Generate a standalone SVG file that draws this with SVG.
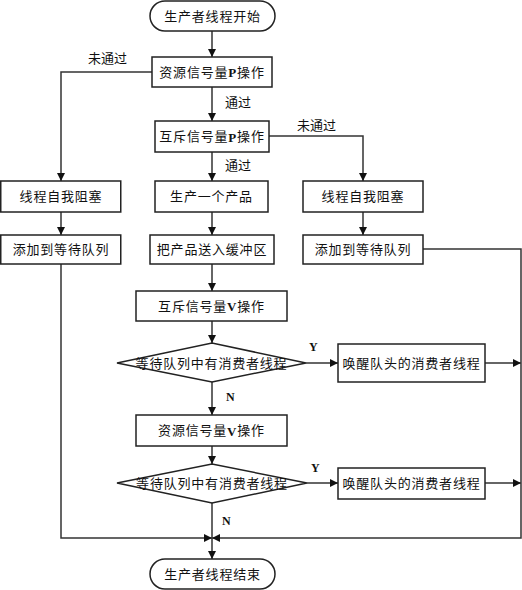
<svg xmlns="http://www.w3.org/2000/svg" width="522" height="590" viewBox="0 0 522 590">
<defs>
<marker id="ah" viewBox="0 0 10 10" refX="10" refY="5" markerWidth="8" markerHeight="8" markerUnits="userSpaceOnUse" orient="auto">
<path d="M0,0 L10,5 L0,10 z" fill="#111"/>
</marker>
<style>
.box{fill:#fff;stroke:#222;stroke-width:1.5}
.t{font-family:"Liberation Serif","Noto Sans CJK SC",serif;font-size:13px;fill:#111;text-anchor:middle;dominant-baseline:central;letter-spacing:0.8px}
.b{font-family:"Liberation Serif",serif;font-weight:bold}
.lbl{font-family:"Liberation Serif","Noto Sans CJK SC",serif;font-size:13px;fill:#111;dominant-baseline:central}
.yn{font-family:"Liberation Serif",serif;font-weight:bold;font-size:12px;fill:#111;dominant-baseline:central}
.c{fill:none;stroke:#333;stroke-width:1.5}
.ca{fill:none;stroke:#333;stroke-width:1.5;marker-end:url(#ah)}
</style>
</defs>
<rect width="522" height="590" fill="#fff"/>
<g id="connectors">
<path class="ca" d="M212,31 V57"/>
<path class="ca" d="M152,72 H61 V181"/>
<path class="ca" d="M212,87 V121"/>
<path class="ca" d="M269,136 H363 V181"/>
<path class="ca" d="M212,152 V181"/>
<path class="ca" d="M61,212 V235"/>
<path class="ca" d="M212,212 V235"/>
<path class="ca" d="M363,212 V235"/>
<path class="ca" d="M212,264 V291"/>
<path class="ca" d="M212,321 V343"/>
<path class="ca" d="M306,363 H338"/>
<path class="ca" d="M485,363 H521"/>
<path class="ca" d="M212,382 V415"/>
<path class="ca" d="M212,446 V464"/>
<path class="ca" d="M307,483 H338"/>
<path class="ca" d="M485,483 H521"/>
<path class="ca" d="M61,264 V538 H212"/>
<path class="ca" d="M423,249 H521 V538 H212"/>
<path class="ca" d="M212,503 V559"/>
<text class="lbl" x="88" y="58">未通过</text>
<text class="lbl" x="225" y="102">通过</text>
<text class="lbl" x="297" y="125">未通过</text>
<text class="lbl" x="225" y="165">通过</text>
<text class="yn" x="309" y="347">Y</text>
<text class="yn" x="226" y="397">N</text>
<text class="yn" x="311" y="468">Y</text>
<text class="yn" x="222" y="521">N</text>
</g>
<g id="start"><rect class="box" x="150" y="1" width="125" height="30" rx="15"/><text class="t" x="212.5" y="16">生产者线程开始</text></g>
<g id="resP"><rect class="box" x="152" y="57" width="120" height="30"/><text class="t" x="212" y="72">资源信号量<tspan class="b">P</tspan>操作</text></g>
<g id="mutexP"><rect class="box" x="155" y="121" width="114" height="31"/><text class="t" x="212" y="136.5">互斥信号量<tspan class="b">P</tspan>操作</text></g>
<g id="block1"><rect class="box" x="0.75" y="181" width="120" height="31"/><text class="t" x="61" y="196.5">线程自我阻塞</text></g>
<g id="produce"><rect class="box" x="155" y="181" width="113" height="31"/><text class="t" x="211.5" y="196.5">生产一个产品</text></g>
<g id="block2"><rect class="box" x="303" y="181" width="120" height="31"/><text class="t" x="363" y="196.5">线程自我阻塞</text></g>
<g id="queue1"><rect class="box" x="0.75" y="235" width="120" height="29"/><text class="t" x="61" y="249.5">添加到等待队列</text></g>
<g id="buffer"><rect class="box" x="150" y="235" width="124" height="29"/><text class="t" x="212" y="249.5">把产品送入缓冲区</text></g>
<g id="queue2"><rect class="box" x="303" y="235" width="120" height="29"/><text class="t" x="363" y="249.5">添加到等待队列</text></g>
<g id="mutexV"><rect class="box" x="136" y="291" width="151" height="30"/><text class="t" x="211.5" y="306">互斥信号量<tspan class="b">V</tspan>操作</text></g>
<g id="check1"><path class="box" d="M117,363 L212,343 L306,363 L212,382 Z"/><text class="t" x="211.5" y="363">等待队列中有消费者线程</text></g>
<g id="wake1"><rect class="box" x="338" y="344" width="147" height="38"/><text class="t" x="411.5" y="363">唤醒队头的消费者线程</text></g>
<g id="resV"><rect class="box" x="136" y="415" width="151" height="31"/><text class="t" x="211.5" y="430.5">资源信号量<tspan class="b">V</tspan>操作</text></g>
<g id="check2"><path class="box" d="M117,483 L212,464 L307,483 L212,503 Z"/><text class="t" x="212" y="483">等待队列中有消费者线程</text></g>
<g id="wake2"><rect class="box" x="338" y="468" width="147" height="31"/><text class="t" x="411.5" y="483.5">唤醒队头的消费者线程</text></g>
<g id="end"><rect class="box" x="150" y="559" width="125" height="30" rx="15"/><text class="t" x="212.5" y="574">生产者线程结束</text></g>
</svg>
